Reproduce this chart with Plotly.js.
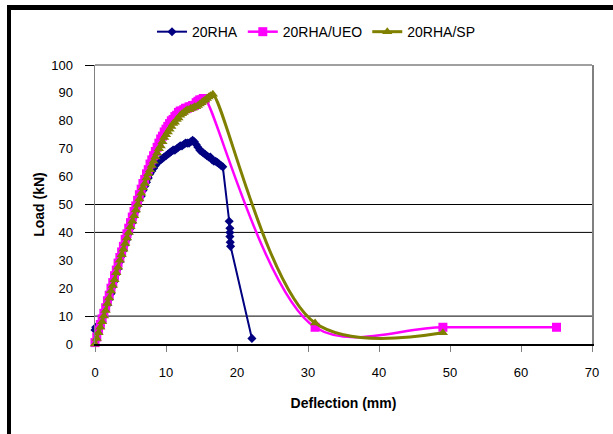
<!DOCTYPE html>
<html>
<head>
<meta charset="utf-8">
<script src="https://cdn.plot.ly/plotly-3.0.1.min.js"></script>
<style>
  html, body { margin: 0; padding: 0; background: #fff; }
  #wrap { position: relative; width: 613px; height: 434px; overflow: hidden; }
  #chart { width: 613px; height: 434px; }
  .bar { position: absolute; background: #000; }
</style>
</head>
<body>
<div id="wrap">
  <div id="chart"></div>
  <div class="bar" style="left:7px; top:5px; width:4px; height:429px;"></div>
  <div class="bar" style="left:7px; top:5px; width:606px; height:5px;"></div>
</div>
<script>
// ---- data ----
var seriesNames = ["20RHA", "20RHA/UEO", "20RHA/SP"];

var rhaX = [-0.2, 0, 0.1, 0.25,
  0.5, 0.75, 1, 1.25, 1.5, 1.75, 2, 2.25, 2.5, 2.75, 3, 3.25, 3.5, 3.75, 4, 4.25,
  4.5, 4.75, 5, 5.25, 5.5, 5.75, 6, 6.25, 6.5, 6.75, 7, 7.25, 7.5, 7.75, 8, 8.25,
  8.5, 8.75, 9, 9.25, 9.5, 9.75, 10, 10.25, 10.5, 10.75, 11, 11.25, 11.5, 11.75, 12, 12.25,
  12.5, 12.75, 13, 13.25, 13.5, 13.75, 14, 14.25, 14.5, 14.75, 15, 15.25, 15.5, 15.75, 16, 16.25,
  16.5, 16.75, 17, 17.25, 17.5, 17.75, 18,
  18.9, 19.0, 19.0, 19.0, 19.05, 19.1, 22.1];
var rhaY = [3.5, 5, 6, 5.5,
  5, 6.5, 8, 10, 12, 14, 16, 18, 20.5, 22.5, 25, 27, 29.5, 31.5, 33.5, 35.5,
  37.5, 39.5, 41.5, 43.5, 45.5, 47.5, 49.5, 51.5, 53, 55, 56.5, 58, 59.5, 61, 62, 63,
  64, 65, 65.5, 66, 66.5, 67, 67.5, 68, 68.5, 69, 69.5, 69.5, 70, 70.5, 71, 71,
  71.5, 72, 72, 72, 72.5, 73, 72.5, 71.5, 70.5, 69.5, 69, 68.5, 68, 67.5, 67, 67,
  66, 65.5, 65.5, 65, 64.5, 64, 63.5,
  44, 41.5, 40, 38.5, 36.5, 35, 2];

var ueoX = [0, 0.25, 0.5, 0.75, 1, 1.25, 1.5, 1.75, 2, 2.25, 2.5, 2.75, 3, 3.25, 3.5, 3.75,
  4, 4.25, 4.5, 4.75, 5, 5.25, 5.5, 5.75, 6, 6.25, 6.5, 6.75, 7, 7.25, 7.5, 7.75,
  8, 8.25, 8.5, 8.75, 9, 9.25, 9.5, 9.75, 10, 10.25, 10.5, 10.75, 11, 11.25, 11.5, 11.75,
  12, 12.25, 12.5, 12.75, 13, 13.25, 13.5, 13.75, 14, 14.25, 14.5, 14.75, 15, 15.25, 15.5,
  31, 49, 65];
var ueoY = [0.5, 2.5, 5, 7, 9, 11, 13, 15.5, 17.5, 20, 22, 24.5, 26.5, 29, 31, 33,
  35, 37.5, 39.5, 41.5, 43.5, 45.5, 47.5, 49.5, 51.5, 53.5, 55.5, 57.5, 59, 61, 62.5, 64.5,
  66, 67.5, 69, 70.5, 72, 73.5, 74.5, 76, 77, 78, 79, 80, 80.5, 81.5, 82, 83,
  83.5, 83.5, 84, 84.5, 84.5, 85, 85, 85.5, 85.5, 86.5, 87, 87.5, 87.5, 88, 88,
  6, 6, 6];

var spX = [0, 0.25, 0.5, 0.75, 1, 1.25, 1.5, 1.75, 2, 2.25, 2.5, 2.75, 3, 3.25, 3.5, 3.75,
  4, 4.25, 4.5, 4.75, 5, 5.25, 5.5, 5.75, 6, 6.25, 6.5, 6.75, 7, 7.25, 7.5, 7.75,
  8, 8.25, 8.5, 8.75, 9, 9.25, 9.5, 9.75, 10, 10.25, 10.5, 10.75, 11, 11.25, 11.5, 11.75,
  12, 12.25, 12.5, 12.75, 13, 13.25, 13.5, 13.75, 14, 14.25, 14.5, 14.75, 15, 15.25, 15.5, 15.75,
  16, 16.25, 16.6,
  31, 49];
var spY = [0, 2, 4, 6, 8, 10, 12, 14.5, 16.5, 19, 21, 23, 25.5, 27.5, 30, 32,
  34, 36, 38, 40, 42, 44, 46, 48, 50, 52, 54, 56, 57.5, 59.5, 61, 62.5,
  64, 65.5, 67, 68.5, 70, 71, 72.5, 74, 75, 76, 77, 78, 79, 79.5, 80.5, 81,
  82, 82.5, 83, 83.5, 84, 84, 84.5, 84.5, 85, 85, 85.5, 86, 86.5, 87, 87.5, 88,
  88.5, 89, 89.5,
  7.5, 4];

var xTickVals = [0, 10, 20, 30, 40, 50, 60, 70];
var yTickVals = [0, 10, 20, 30, 40, 50, 60, 70, 80, 90, 100];
var gridVals = [10, 40, 50];
var yMarkVals = [10, 40, 50, 100];

// ---- chart ----
var FONT = "Liberation Sans, Arial, sans-serif";

var traces = [
  {
    x: rhaX, y: rhaY, name: seriesNames[0], type: "scatter", mode: "lines+markers",
    line: { color: "#000080", width: 2 },
    marker: { symbol: "diamond", size: 7, color: "#000080" },
    cliponaxis: false
  },
  {
    x: ueoX, y: ueoY, name: seriesNames[1], type: "scatter", mode: "lines+markers",
    line: { color: "#FF00FF", width: 2.5, shape: "spline", smoothing: 1 },
    marker: { symbol: "square", size: 9, color: "#FF00FF" },
    cliponaxis: false
  },
  {
    x: spX, y: spY, name: seriesNames[2], type: "scatter", mode: "lines+markers",
    line: { color: "#808000", width: 3, shape: "spline", smoothing: 1 },
    marker: { symbol: "triangle-up", size: 9, color: "#808000" },
    cliponaxis: false
  }
];

var shapes = gridVals.map(function (v) {
  return { type: "line", xref: "paper", yref: "y", x0: 0, x1: 1, y0: v, y1: v,
           line: { color: "#000", width: 1 }, layer: "below" };
});
shapes.push({ type: "line", xref: "paper", yref: "paper", x0: 0, x1: 1, y0: 1, y1: 1,
              line: { color: "#808080", width: 1.5 }, layer: "below" });

var layout = {
  width: 613, height: 434,
  margin: { l: 95, r: 21, t: 65, b: 90 },
  paper_bgcolor: "#fff", plot_bgcolor: "#fff",
  font: { family: FONT, size: 13, color: "#000" },
  showlegend: true,
  legend: {
    orientation: "h", x: 0.1147, xanchor: "left", y: 1.118, yanchor: "middle",
    font: { family: FONT, size: 14, color: "#000" },
    bgcolor: "rgba(0,0,0,0)", tracegroupgap: 0
  },
  xaxis: {
    range: [0, 70], tickvals: xTickVals, ticktext: xTickVals.map(String),
    showgrid: false, zeroline: false,
    showline: true, linecolor: "#000", linewidth: 1.5,
    ticks: "outside", ticklen: 6, tickcolor: "#808080", tickwidth: 1,
    ticklabelstandoff: 10,
    tickfont: { family: FONT, size: 13, color: "#000" },
    title: { text: "<b>Deflection (mm)</b>", font: { family: FONT, size: 14, color: "#000" }, standoff: 19 }
  },
  yaxis: {
    range: [0, 100], tickvals: yTickVals, ticktext: yTickVals.map(String),
    showgrid: false, zeroline: false,
    showline: true, linecolor: "#808080", linewidth: 1.5, mirror: true,
    ticks: "", ticklabelstandoff: 18,
    tickfont: { family: FONT, size: 13, color: "#000" },
    title: { text: "<b>Load (kN)</b>", font: { family: FONT, size: 14, color: "#000" }, standoff: 3 }
  },
  yaxis2: {
    overlaying: "y", side: "left", range: [0, 100], tickvals: yMarkVals,
    showticklabels: false, showgrid: false, zeroline: false, showline: false,
    ticks: "outside", ticklen: 9, tickcolor: "#000", tickwidth: 1
  },
  shapes: shapes
};

// invisible trace so that the tick-mark overlay axis renders
traces.push({ x: [0], y: [0], yaxis: "y2", type: "scatter", mode: "markers",
              marker: { opacity: 0 }, showlegend: false, hoverinfo: "skip" });

Plotly.newPlot("chart", traces, layout, { displayModeBar: false, staticPlot: true });
</script>
</body>
</html>
